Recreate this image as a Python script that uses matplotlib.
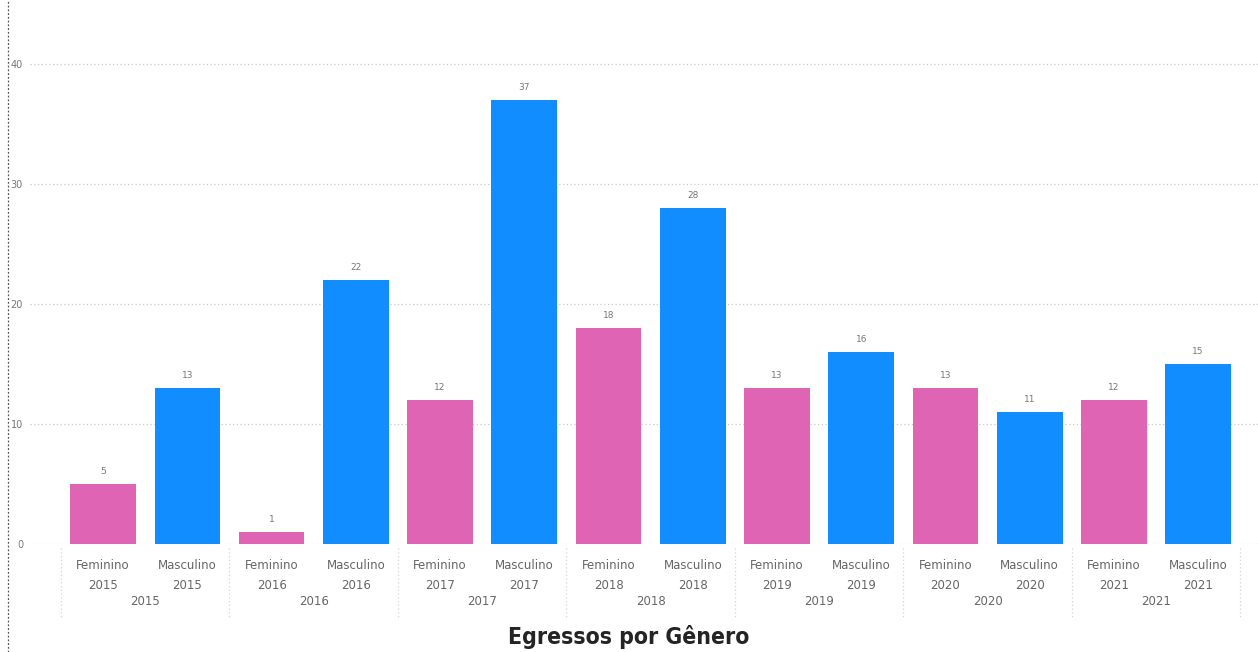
import matplotlib.pyplot as plt
import matplotlib.transforms as mtransforms
import numpy as np

years = ["2015", "2016", "2017", "2018", "2019", "2020", "2021"]
genders = ["Feminino", "Masculino"]
feminino = [5, 1, 12, 18, 13, 13, 12]
masculino = [13, 22, 37, 28, 16, 11, 15]

PINK = "#E064B4"
BLUE = "#118DFF"
GRID = "#C8C8C8"
TEXT = "#666666"

W, H = 1258, 652
fig = plt.figure(figsize=(W / 100, H / 100), dpi=100)
ax = fig.add_axes((30 / W, (H - 544) / H, (W - 30) / W, 544 / H))

# interleave the two genders per year
values, colors, labels = [], [], []
for y, f, m in zip(years, feminino, masculino):
    values += [f, m]
    colors += [PINK, BLUE]
    labels += [f"{genders[0]}\n{y}", f"{genders[1]}\n{y}"]
x = np.arange(len(values))

bars = ax.bar(x, values, width=0.78, color=colors, zorder=2)
ax.bar_label(bars, padding=6, fontsize=6.5, color="#777777")

ax.set_xlim(-0.868, 13.71)
ax.set_ylim(0, 45.33)
ax.set_yticks([0, 10, 20, 30, 40])
ax.yaxis.grid(True, color=GRID, linestyle=(0, (1, 2)), linewidth=0.9, zorder=0)
ax.tick_params(axis="y", length=0, pad=5, labelsize=7, labelcolor="#777777")
ax.set_xticks(x)
ax.set_xticklabels(labels, fontsize=8.5, color=TEXT, linespacing=1.75)
ax.tick_params(axis="x", length=0, pad=10.5)
for s in ax.spines.values():
    s.set_visible(False)

# year group labels and separators under the category labels
trans = mtransforms.blended_transform_factory(ax.transData, ax.transAxes)
for i, y in enumerate(years):
    ax.text(2 * i + 0.5, -0.105, y, transform=trans, ha="center", va="center",
            fontsize=8.5, color=TEXT)
for b in np.arange(-0.5, len(values), 2):
    ax.plot([b, b], [-0.007, -0.136], transform=trans, clip_on=False,
            color="#D5D5D5", linestyle=(0, (1, 2)), linewidth=0.9)

# dotted frame line on the left edge
fig.add_artist(plt.Line2D([8 / W, 8 / W], [0, 1], color="#555555",
                          linestyle=(0, (1.5, 1.5)), linewidth=0.9))

fig.text(0.5, (H - 637) / H, "Egressos por Gênero", ha="center", va="center",
         fontsize=16.5, fontweight="bold", fontstretch="condensed",
         color="#252423", family=["DejaVu Sans"])

fig.savefig("out.png", dpi=100)
